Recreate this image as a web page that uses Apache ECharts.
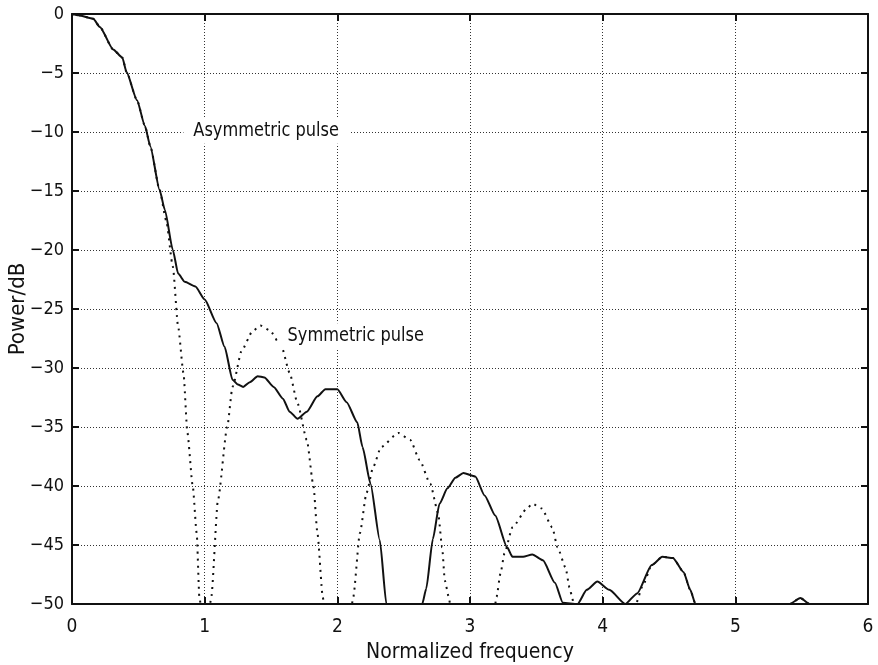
<!DOCTYPE html>
<html>
<head>
<meta charset="utf-8">
<script src="https://cdn.jsdelivr.net/npm/echarts@6/dist/echarts.min.js"></script>
<style>
  html, body { margin: 0; padding: 0; background: #fff; }
  #chart { width: 878px; height: 665px; }
</style>
</head>
<body>
<div id="chart"></div>
<script>
// Power spectra of an asymmetric and a symmetric pulse (dB vs normalized frequency)
const asymFreq = [0, 0.05, 0.16, 0.21, 0.31, 0.38, 0.41, 0.49, 0.55, 0.59, 0.66, 0.70, 0.76, 0.80, 0.85, 0.93,
  1.0, 1.09, 1.15, 1.21, 1.25, 1.29, 1.34, 1.40, 1.45, 1.52, 1.59, 1.64, 1.70, 1.77, 1.85, 1.91,
  2.0, 2.07, 2.15, 2.19, 2.25, 2.32, 2.37, 2.64, 2.67, 2.72, 2.77, 2.83, 2.89, 2.95,
  3.04, 3.11, 3.19, 3.28, 3.32, 3.40, 3.47, 3.55, 3.64, 3.70, 3.81, 3.88, 3.96,
  4.05, 4.17, 4.26, 4.37, 4.45, 4.53, 4.61, 4.66, 4.70, 5.41, 5.49, 5.56, 6.0];
const asymPower = [0, -0.1, -0.4, -1.1, -3.0, -3.7, -4.9, -7.3, -9.5, -11.2, -14.9, -16.6, -20.0, -22.0, -22.7, -23.1,
  -24.2, -26.2, -28.2, -31.0, -31.4, -31.6, -31.2, -30.7, -30.8, -31.6, -32.6, -33.7, -34.3, -33.7, -32.4, -31.8,
  -31.8, -32.9, -34.6, -36.7, -39.8, -44.6, -50, -50, -48.7, -44.5, -41.5, -40.2, -39.3, -38.9,
  -39.2, -40.8, -42.5, -45.2, -46.0, -46.0, -45.8, -46.3, -48.2, -49.9, -50, -48.8, -48.1,
  -48.8, -50, -49.1, -46.7, -46.0, -46.1, -47.3, -48.8, -50, -50, -49.5, -50, -50];

const symFreq = [0, 0.05, 0.16, 0.21, 0.31, 0.38, 0.41, 0.49, 0.55, 0.59, 0.66, 0.71, 0.76, 0.80, 0.84, 0.87,
  0.91, 0.94, 0.96, 0.97, 1.04, 1.05, 1.10, 1.17, 1.21, 1.28, 1.36, 1.42, 1.49, 1.58, 1.64, 1.70,
  1.77, 1.82, 1.85, 1.89, 1.90, 2.11, 2.12, 2.17, 2.22, 2.27, 2.33, 2.46, 2.55, 2.62, 2.70, 2.76,
  2.79, 2.81, 2.84, 2.85, 3.19, 3.20, 3.23, 3.26, 3.32, 3.43, 3.47, 3.54, 3.62, 3.66, 3.72, 3.75,
  3.77, 3.78, 4.25, 4.30, 4.37, 4.45, 4.53, 4.61, 4.66, 4.70, 5.41, 5.49, 5.56, 6.0];
const symPower = [0, -0.1, -0.4, -1.1, -3.0, -3.7, -4.9, -7.3, -9.5, -11.2, -14.9, -17.5, -21.4, -26.5, -30.4, -35.5,
  -40.0, -44.0, -49.4, -50, -50, -49.4, -41.2, -35.0, -31.6, -28.5, -26.9, -26.4, -26.8, -28.2, -30.4, -33.0,
  -36.1, -40.0, -44.0, -49.4, -50, -50, -49.4, -44.0, -40.6, -38.4, -36.7, -35.5, -36.1, -37.8, -39.8, -42.3,
  -45.2, -48.0, -49.4, -50, -50, -49.4, -47.4, -45.7, -43.5, -41.9, -41.5, -41.9, -43.5, -45.2, -46.9, -48.6,
  -49.4, -50, -50, -48.5, -46.7, -46.0, -46.1, -47.3, -48.8, -50, -50, -49.5, -50, -50];

const xTicks = [0, 1, 2, 3, 4, 5, 6];
const yTicks = [0, -5, -10, -15, -20, -25, -30, -35, -40, -45, -50];

// Annotation anchors in data coordinates (left edge of backing box, vertical centre)
const asymLabel = { text: 'Asymmetric pulse', at: [0.84, -9.9] };
const symLabel = { text: 'Symmetric pulse', at: [1.55, -27.3] };

const FONT = '"DejaVu Sans Condensed", "Liberation Sans Narrow", "DejaVu Sans", sans-serif';

const zip = (xs, ys) => xs.map((x, i) => [x, ys[i]]);
const minus = v => String(v).replace('-', '\u2212');

const chart = echarts.init(document.getElementById('chart'), null, { renderer: 'canvas' });

const gridLine = { show: true, lineStyle: { color: '#333', width: 1, type: [1, 2] } };
const frameLine = { show: true, onZero: false, lineStyle: { color: '#111', width: 2 } };
const innerTick = { show: true, inside: true, length: 7, lineStyle: { color: '#111', width: 2 } };

chart.setOption({
  animation: false,
  backgroundColor: '#fff',
  grid: { left: 72, right: 10, top: 14, bottom: 61, containLabel: false, outerBoundsMode: 'none' },
  xAxis: [{
    type: 'value', min: xTicks[0], max: xTicks[xTicks.length - 1], interval: 1,
    name: 'Normalized frequency', nameLocation: 'middle', nameGap: 38,
    nameTextStyle: { fontFamily: FONT, fontSize: 21, color: '#111' },
    axisLine: frameLine, axisTick: innerTick, splitLine: gridLine,
    axisLabel: { fontFamily: FONT, fontSize: 19, color: '#111', margin: 14 }
  }, {
    type: 'value', position: 'top', min: xTicks[0], max: xTicks[xTicks.length - 1], interval: 1,
    axisLine: frameLine, axisTick: innerTick, splitLine: { show: false }, axisLabel: { show: false }
  }],
  yAxis: [{
    type: 'value', min: yTicks[yTicks.length - 1], max: yTicks[0], interval: 5,
    name: 'Power/dB', nameLocation: 'middle', nameGap: 43, nameMoveOverlap: false,
    nameTextStyle: { fontFamily: FONT, fontSize: 22, color: '#111' },
    axisLine: frameLine, axisTick: innerTick, splitLine: gridLine,
    axisLabel: { fontFamily: FONT, fontSize: 18, color: '#111', margin: 8, formatter: minus }
  }, {
    type: 'value', position: 'right', min: yTicks[yTicks.length - 1], max: yTicks[0], interval: 5,
    axisLine: frameLine, axisTick: innerTick, splitLine: { show: false }, axisLabel: { show: false }
  }],
  series: [{
    name: 'Symmetric pulse', type: 'line', data: zip(symFreq, symPower),
    showSymbol: false, clip: true, z: 3, smooth: 0.2, smoothMonotone: 'x',
    lineStyle: { color: '#111', width: 2, type: [2, 5] }
  }, {
    name: 'Asymmetric pulse', type: 'line', data: zip(asymFreq, asymPower),
    showSymbol: false, clip: true, z: 4, smooth: 0.2, smoothMonotone: 'x',
    lineStyle: { color: '#111', width: 2 }
  }]
});

// Curve annotations placed in data coordinates, with a white backing over the grid
function annotation(lbl) {
  const p = chart.convertToPixel({ gridIndex: 0 }, lbl.at);
  return {
    type: 'text', x: p[0], y: p[1], z: 10, scaleX: 0.9,
    style: {
      text: lbl.text, fontFamily: FONT, fontSize: 20, fill: '#111',
      align: 'left', verticalAlign: 'middle',
      backgroundColor: '#fff', padding: [3, 12, 3, 11]
    }
  };
}
chart.setOption({ graphic: [annotation(asymLabel), annotation(symLabel)] });
</script>
</body>
</html>
